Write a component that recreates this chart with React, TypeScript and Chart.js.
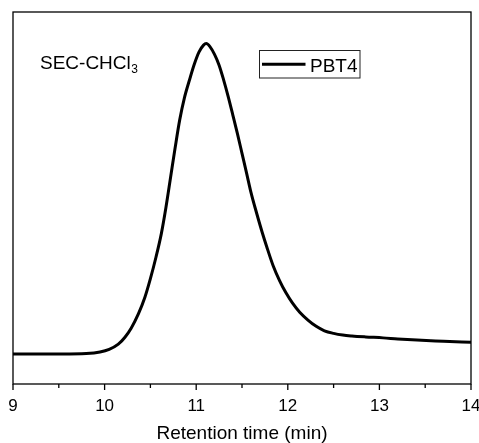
import React, { useEffect, useRef } from "react";
import { Chart, registerables } from "chart.js";

Chart.register(...registerables);

// ---- Data ----
const retentionTime = [
  9.0, 9.5, 9.8, 9.95, 10.05, 10.15, 10.22, 10.29, 10.37, 10.44, 10.5, 10.56,
  10.62, 10.67, 10.72, 10.77, 10.82, 10.87, 10.93, 10.98, 11.03, 11.08, 11.11,
  11.15, 11.2, 11.25, 11.3, 11.35, 11.4, 11.45, 11.5, 11.55, 11.6, 11.66, 11.72,
  11.77, 11.84, 11.91, 11.98, 12.05, 12.13, 12.22, 12.31, 12.4, 12.5, 12.6,
  12.7, 12.85, 13.04, 13.2, 13.41, 13.7, 14.0,
];
const intensity = [
  8.05, 8.07, 8.2, 8.6, 9.3, 10.7, 12.5, 15.0, 18.9, 23.3, 28.3, 34.0,
  40.5, 47.5, 55.5, 63.5, 71.0, 76.8, 82.0, 86.0, 89.2, 91.1, 91.5,
  90.7, 88.6, 85.7, 81.7, 77.2, 72.3, 67.3, 62.0, 56.7, 51.3, 45.9, 40.8,
  36.9, 31.8, 27.8, 24.5, 21.8, 19.3, 17.2, 15.5, 14.3, 13.6, 13.15,
  12.9, 12.65, 12.4, 12.1, 11.8, 11.5, 11.2,
];
const seriesLabel = "PBT4";
const majorTickValues = [9, 10, 11, 12, 13, 14];
const minorTickValues = [9.5, 10.5, 11.5, 12.5, 13.5];
const xAxisTitle = "Retention time (min)";
const annotationMain = "SEC-CHCl";
const annotationSub = "3";

const FAMILY = "'Liberation Sans', Arial, Helvetica, sans-serif";

const decorPlugin = {
  id: "decor",
  afterDraw(chart: any) {
    const { ctx, chartArea: a, scales } = chart;
    const xs = scales.x;
    ctx.save();
    // frame
    ctx.strokeStyle = "#000";
    ctx.lineWidth = 1.3;
    ctx.strokeRect(a.left, a.top, a.right - a.left, a.bottom - a.top);
    // ticks
    ctx.beginPath();
    for (const v of majorTickValues) {
      const px = xs.getPixelForValue(v);
      ctx.moveTo(px, a.bottom);
      ctx.lineTo(px, a.bottom + 6);
    }
    for (const v of minorTickValues) {
      const px = xs.getPixelForValue(v);
      ctx.moveTo(px, a.bottom);
      ctx.lineTo(px, a.bottom + 4);
    }
    ctx.stroke();

    // annotation
    ctx.fillStyle = "#000";
    ctx.textBaseline = "alphabetic";
    ctx.textAlign = "left";
    ctx.font = `19px ${FAMILY}`;
    const ax = a.left + 27;
    ctx.fillText(annotationMain, ax, 68.5);
    const w = ctx.measureText(annotationMain).width;
    ctx.font = `12px ${FAMILY}`;
    ctx.fillText(annotationSub, ax + w + 0.5, 73);

    // legend
    const lx = 259.5;
    const ly = 50.5;
    ctx.lineWidth = 1;
    ctx.strokeStyle = "#222";
    ctx.strokeRect(lx, ly, 100.5, 27.5);
    ctx.beginPath();
    ctx.lineWidth = 3;
    ctx.strokeStyle = "#000";
    ctx.moveTo(lx + 2.5, 64.3);
    ctx.lineTo(lx + 46, 64.3);
    ctx.stroke();
    ctx.font = `19px ${FAMILY}`;
    ctx.fillText(chart.data.datasets[0].label, lx + 50.5, 71.7);
    ctx.restore();
  },
};

export default function App() {
  const ref = useRef<HTMLCanvasElement | null>(null);
  useEffect(() => {
    if (!ref.current) return;
    const chart = new Chart(ref.current, {
      type: "line",
      data: {
        datasets: [
          {
            label: seriesLabel,
            data: retentionTime.map((t, i) => ({ x: t, y: intensity[i] })),
            borderColor: "#000",
            borderWidth: 3,
            pointRadius: 0,
            cubicInterpolationMode: "monotone",
            fill: false,
            borderCapStyle: "round",
            borderJoinStyle: "round",
          },
        ],
      },
      options: {
        responsive: false,
        animation: false,
        layout: { padding: { left: 13, right: 8, top: 12, bottom: 0 } },
        plugins: { legend: { display: false }, tooltip: { enabled: false } },
        scales: {
          x: {
            type: "linear",
            min: 9,
            max: 14,
            grid: { display: false, drawTicks: false },
            border: { display: false },
            afterBuildTicks: (s: any) => {
              s.ticks = majorTickValues.map((v) => ({ value: v }));
            },
            ticks: {
              padding: 12,
              color: "#000",
              maxRotation: 0,
              autoSkip: false,
              font: { size: 17, family: FAMILY },
              callback: (v: any) => String(v),
            },
            title: {
              display: true,
              text: xAxisTitle,
              color: "#000",
              font: { size: 19, family: FAMILY, lineHeight: 1 },
              padding: { top: 0, bottom: 0 },
            },
            afterFit: (s: any) => {
              s.height = 59;
              s.paddingLeft = 0;
              s.paddingRight = 0;
            },
          },
          y: { display: false, min: 0, max: 100 },
        },
      } as any,
      plugins: [decorPlugin],
    });
    return () => chart.destroy();
  }, []);
  return (
    <div
      style={{
        position: "absolute",
        left: 0,
        top: 0,
        width: 479,
        height: 443,
        overflow: "hidden",
        background: "#fff",
      }}
    >
      <canvas ref={ref} width={479} height={443} style={{ display: "block" }} />
    </div>
  );
}
